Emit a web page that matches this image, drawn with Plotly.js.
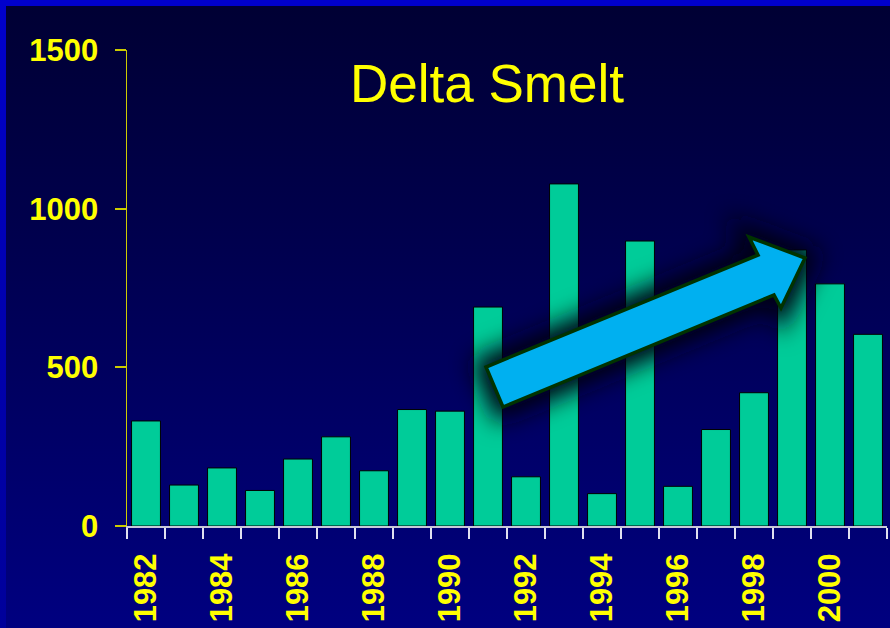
<!DOCTYPE html>
<html>
<head>
<meta charset="utf-8">
<script src="https://cdn.plot.ly/plotly-3.0.1.min.js"></script>
<style>
  html, body { margin:0; padding:0; width:890px; height:628px; overflow:hidden; }
  #bg { position:absolute; left:0; top:0; width:890px; height:628px;
        background: linear-gradient(to bottom, #000033 0%, #00004f 40%, #000080 100%); }
  #topbar { position:absolute; left:0; top:0; width:890px; height:6px; background:#0000CC; }
  #leftbar { position:absolute; left:0; top:0; width:6px; height:628px;
        background: linear-gradient(to bottom, #0000CC 0%, #0000B0 50%, #00009A 100%); }
  #chart { position:absolute; left:0; top:0; width:890px; height:628px; }
</style>
</head>
<body>
<div id="bg"></div>
<div id="topbar"></div>
<div id="leftbar"></div>
<div id="chart"></div>
<script>
// Data
const years = [1982,1983,1984,1985,1986,1987,1988,1989,1990,1991,1992,1993,1994,1995,1996,1997,1998,1999,2000,2001];
const abundance = [331,129,183,112,211,281,174,367,362,690,155,1078,102,898,125,304,420,870,763,604];
const tickYears = [1982,1984,1986,1988,1990,1992,1994,1996,1998,2000];
const tickLabels = ["1982","1984","1986","1988","1990","1992","1994","1996","1998","2000"];
const yTicks = [0,500,1000,1500];
const titleText = "Delta Smelt";

// Arrow outline (paper coordinates) – decorative annotation
const arrowPts = [[0.4724,0.3340],[0.4947,0.2500],[0.8513,0.4853],[0.8605,0.4580],[0.8921,0.5630],[0.8184,0.6071],[0.8303,0.5693]];
const arrowPath = 'M ' + arrowPts.map(p => p[0] + ',' + p[1]).join(' L ') + ' Z';

const trace = {
  type: 'bar',
  x: years,
  y: abundance,
  width: 0.76,
  marker: { color: '#00CC99', line: { color: '#000000', width: 1 } },
  hoverinfo: 'x+y'
};

const shapes = [
  { type: 'path', xref: 'paper', yref: 'paper', path: arrowPath,
    fillcolor: 'rgba(0,0,20,1)', line: { color: 'rgba(0,0,20,1)', width: 24 }, layer: 'above' },
  { type: 'path', xref: 'paper', yref: 'paper', path: arrowPath,
    fillcolor: '#00B0F0', line: { color: '#003300', width: 3.5 }, layer: 'above' }
];

const layout = {
  width: 890, height: 628,
  margin: { l: 127, r: 3, t: 50, b: 102 },
  paper_bgcolor: 'rgba(0,0,0,0)',
  plot_bgcolor: 'rgba(0,0,0,0)',
  showlegend: false,
  title: {
    text: titleText,
    font: { family: 'Arial, Liberation Sans, sans-serif', size: 53, color: '#FFFF00' },
    xref: 'container', yref: 'container',
    x: 487/890, xanchor: 'center',
    y: 1 - 83/628, yanchor: 'middle'
  },
  xaxis: {
    type: 'linear',
    range: [1981.5, 2001.5],
    tickmode: 'array',
    tickvals: tickYears,
    ticktext: tickLabels,
    tickangle: -90,
    ticks: 'outside',
    ticklen: 11,
    tickcolor: 'rgba(0,0,0,0)',
    ticklabelstandoff: 2,
    tickfont: { family: 'Arial, Liberation Sans, sans-serif', size: 31, color: '#FFFF00', weight: 'bold' },
    showline: true, linecolor: '#C8C8D8', linewidth: 2,
    showgrid: false, zeroline: false,
    minor: { ticks: 'outside', ticklen: 11, tickcolor: '#E0E0F0', tickwidth: 2, tick0: 1981.5, dtick: 1, showgrid: false },
    fixedrange: true
  },
  yaxis: {
    range: [0, 1500],
    tickmode: 'array',
    tickvals: yTicks,
    ticktext: yTicks.map(String),
    ticks: 'outside',
    ticklen: 11,
    tickwidth: 2,
    tickcolor: '#CCCC00',
    ticklabelstandoff: 10,
    tickfont: { family: 'Arial, Liberation Sans, sans-serif', size: 31, color: '#FFFF00', weight: 'bold' },
    showline: true, linecolor: '#CCCC00', linewidth: 1.5,
    showgrid: false, zeroline: false,
    fixedrange: true
  },
  shapes: shapes
};

Plotly.newPlot('chart', [trace], layout, { displayModeBar: false, staticPlot: true }).then(function (gd) {
  const svg = gd.querySelector('svg.main-svg');
  const ns = 'http://www.w3.org/2000/svg';
  let defs = svg.querySelector('defs');
  if (!defs) { defs = document.createElementNS(ns, 'defs'); svg.insertBefore(defs, svg.firstChild); }
  const filter = document.createElementNS(ns, 'filter');
  filter.setAttribute('id', 'arrowShadowBlur');
  filter.setAttribute('x', '-50%'); filter.setAttribute('y', '-50%');
  filter.setAttribute('width', '200%'); filter.setAttribute('height', '200%');
  const blur = document.createElementNS(ns, 'feGaussianBlur');
  blur.setAttribute('stdDeviation', '12');
  filter.appendChild(blur);
  defs.appendChild(filter);
  const paths = gd.querySelectorAll('.shapelayer path');
  if (paths.length) paths[0].setAttribute('filter', 'url(#arrowShadowBlur)');
});
</script>
</body>
</html>
